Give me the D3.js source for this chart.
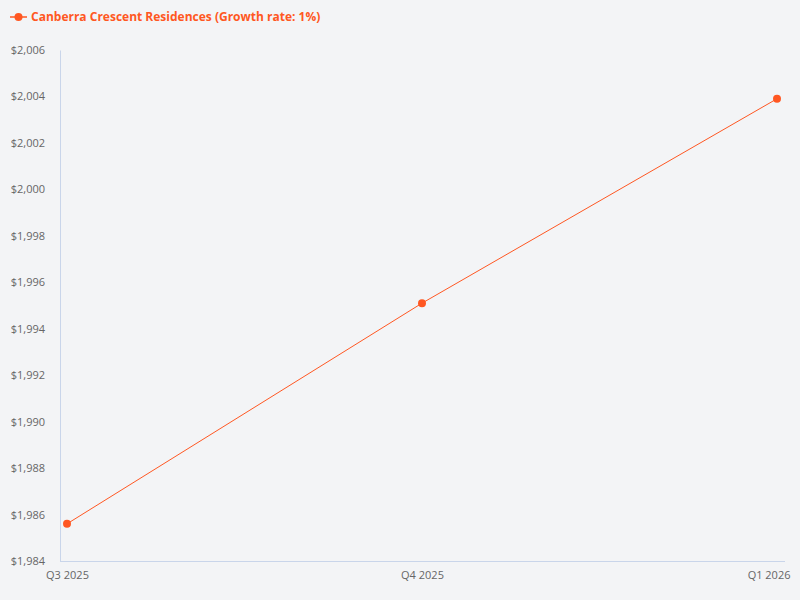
<!DOCTYPE html>
<html>
<head>
<meta charset="utf-8">
<script src="https://cdn.jsdelivr.net/npm/d3@7"></script>
<style>
  body { margin: 0; background: #f3f4f6; }
  svg { display: block; font-family: "Open Sans", "Noto Sans", sans-serif; }
  .tick text { fill: #666; font-size: 11px; }
</style>
</head>
<body>
<svg id="chart" width="800" height="600"></svg>
<script>
var quarters = ["Q3 2025", "Q4 2025", "Q1 2026"]
var prices = [1985.6, 1995.1, 2003.9]
var yTicks = [1984, 1986, 1988, 1990, 1992, 1994, 1996, 1998, 2000, 2002, 2004, 2006]
var seriesName = "Canberra Crescent Residences (Growth rate: 1%)"

var color = "#ff5722"
var width = 800, height = 600
var plotLeft = 60, plotRight = 785, plotTop = 50, plotBottom = 561
var font = '"Open Sans", "Noto Sans", sans-serif'

var svg = d3.select("#chart")
svg.append("rect").attr("width", width).attr("height", height).attr("fill", "#f3f4f6")

var x = d3.scalePoint().domain(quarters).range([plotLeft + 7, plotRight - 8])
var y = d3.scaleLinear().domain([1984, 2006]).range([plotBottom, plotTop])

// Axes
var fmt = d3.format("$,")
var yAxis = svg.append("g")
  .attr("transform", `translate(${plotLeft},0)`)
  .call(d3.axisLeft(y).tickValues(yTicks).tickFormat(fmt).tickSize(0).tickPadding(15))
  .attr("font-family", font)
yAxis.select(".domain").attr("stroke", "#c9d5ea")

var xAxis = svg.append("g")
  .attr("transform", `translate(0,${plotBottom})`)
  .call(d3.axisBottom(x).tickSize(0).tickPadding(10))
  .attr("font-family", font)
xAxis.select(".domain").attr("stroke", "#c9d5ea").attr("d", `M${plotLeft},0.5H${plotRight}`)

// keep the last label inside the frame
xAxis.selectAll(".tick text").each(function() {
  var t = d3.select(this)
  var box = this.getBBox()
  var tx = x(t.datum())
  if (tx + box.width / 2 > width - 10) t.attr("x", (width - 10) - box.width / 2 - tx)
})

// Line
svg.append("path")
  .datum(prices)
  .attr("fill", "none")
  .attr("stroke", color)
  .attr("stroke-width", 1)
  .attr("d", d3.line().x((d, i) => x(quarters[i])).y(d => y(d)))

svg.append("g").selectAll("circle").data(prices)
  .enter().append("circle")
  .attr("cx", (d, i) => x(quarters[i]))
  .attr("cy", d => y(d))
  .attr("r", 4)
  .attr("fill", color)

// Legend
var legend = svg.append("g").attr("transform", "translate(10,17)")
legend.append("line").attr("x1", 0).attr("x2", 17).attr("stroke", color).attr("stroke-width", 1.5)
legend.append("circle").attr("cx", 8.5).attr("r", 4).attr("fill", color)
legend.append("text")
  .attr("x", 21).attr("dy", "0.35em")
  .attr("fill", color)
  .attr("font-size", 12).attr("font-weight", "bold")
  .text(seriesName)
</script>
</body>
</html>
